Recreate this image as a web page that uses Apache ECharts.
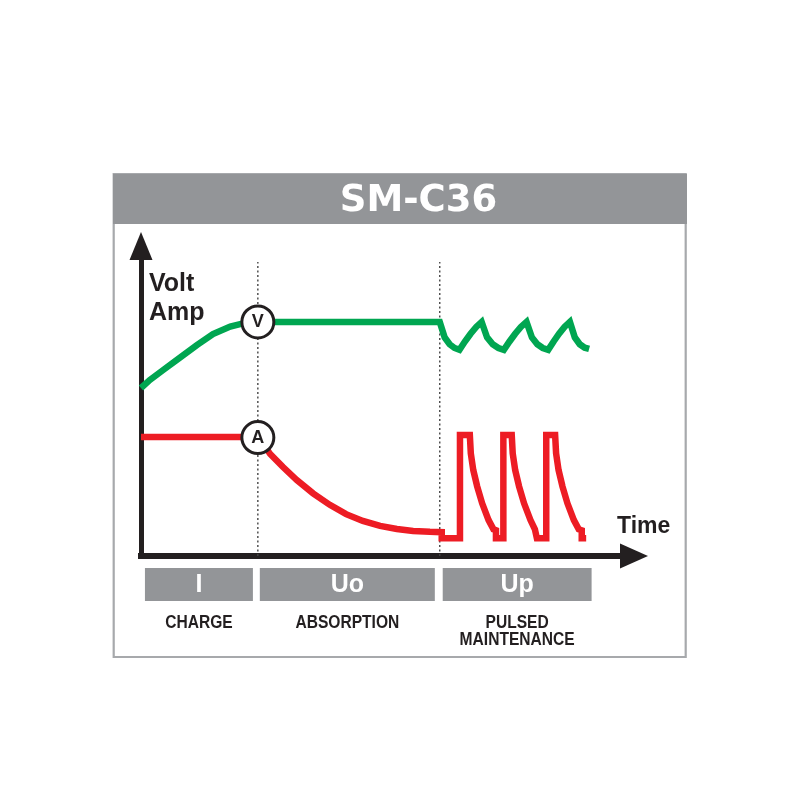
<!DOCTYPE html>
<html><head><meta charset="utf-8">
<script src="https://cdn.jsdelivr.net/npm/echarts@6/dist/echarts.min.js"></script>
<style>html,body{margin:0;padding:0;background:#fff}#c{width:800px;height:800px}</style>
</head><body><div id="c"></div>
<script>
// ---- data (time and level in % of the drawn axes) ----
const chartTitle = 'SM-C36';
const yAxisName = 'Volt\nAmp';
const xAxisName = 'Time';

const voltTime  = [0, 1.8, 4.5, 7.9, 11.4, 14.6, 18.1, 21.1, 23.7, 60.6,
  61.6, 62.6, 63.6, 64.6, 65.7, 66.85, 68.0, 69.1,
  70.2, 71.35, 72.5, 73.6, 74.75, 75.9, 77.05, 78.2,
  79.3, 80.4, 81.5, 82.6, 83.7, 84.8, 85.9, 87.0,
  88.0, 89.0, 90.0, 90.9];
const voltLevel = [54.2, 56.8, 60.0, 64.0, 68.1, 71.6, 74.0, 75.2, 75.5, 75.5,
  70.5, 68.3, 67.1, 66.5, 69.2, 71.7, 73.9, 75.5,
  70.5, 68.3, 67.1, 66.5, 69.2, 71.7, 73.9, 75.5,
  70.5, 68.3, 67.1, 66.5, 69.2, 71.7, 73.9, 75.5,
  70.5, 68.3, 67.2, 66.8];

const ampTime  = [0, 23.8, 26.2, 28.8, 31.6, 34.9, 38.3, 41.6, 45.0, 48.5, 51.9, 55.2, 58.6, 61.0, 61.0,
  64.7, 64.7, 66.7, 66.9, 67.4, 68.2, 69.2, 70.5, 71.5, 72.0, 72.0,
  73.5, 73.5, 75.2, 75.4, 75.9, 76.7, 77.7, 79.0, 79.9, 80.3, 80.3,
  82.2, 82.2, 84.0, 84.2, 84.7, 85.5, 86.5, 87.8, 88.8, 89.4, 89.4, 90.3];
const ampLevel = [38.4, 38.4, 32.9, 28.7, 24.5, 20.2, 16.5, 13.5, 11.3, 9.7, 8.7, 8.1, 7.8, 7.7, 5.7,
  5.7, 39.0, 39.0, 33.1, 27.7, 22.4, 17.0, 11.6, 8.6, 8.3, 5.7,
  5.7, 39.0, 39.0, 33.1, 27.7, 22.4, 17.0, 11.6, 8.6, 8.3, 5.7,
  5.7, 39.0, 39.0, 33.1, 27.7, 22.4, 17.0, 11.6, 8.6, 8.3, 5.7, 5.7];

const markerLabels = ['V', 'A'];
const markerTime   = [23.7, 23.7];
const markerLevel  = [75.5, 38.2];

const dividerTime = [23.7, 60.6];
const dividerTop  = 94.8;

const phaseCodes  = ['I', 'Uo', 'Up'];
const phaseNames  = ['CHARGE', 'ABSORPTION', 'PULSED\nMAINTENANCE'];
const phaseStart  = [0.8, 24.1, 61.2];
const phaseEnd    = [22.7, 59.6, 91.4];

// ---- styles ----
const INK = '#231f20', GREEN = '#00a651', RED = '#ed1c24', GRAY = '#939598';
const SANS = "'Liberation Sans',Arial,sans-serif";

const pairs = (xs, ys) => xs.map((x, i) => [x, ys[i]]);

const series = [];
dividerTime.forEach((x, i) => series.push({
  type: 'line', name: 'divider' + i, data: [[x, 0], [x, dividerTop]], symbol: 'none', silent: true, z: 1,
  lineStyle: { color: '#444', width: 1.4, type: [2, 2.5] }
}));
series.push({
  type: 'line', name: 'Volt', data: pairs(voltTime, voltLevel), symbol: 'none', z: 3,
  lineStyle: { color: GREEN, width: 6.5, join: 'miter', miterLimit: 6 }
});
series.push({
  type: 'line', name: 'Amp', data: pairs(ampTime, ampLevel), symbol: 'none', z: 3,
  lineStyle: { color: RED, width: 6.5, join: 'miter', miterLimit: 6 }
});
series.push({
  type: 'scatter', name: 'markers', z: 5, symbol: 'circle', symbolSize: 32,
  data: markerLabels.map((t, i) => ({ name: t, value: [markerTime[i], markerLevel[i]] })),
  itemStyle: { color: '#fff', borderColor: INK, borderWidth: 3, opacity: 1 },
  label: { show: true, position: 'inside', formatter: p => p.name, color: INK,
    fontFamily: SANS, fontWeight: 'bold', fontSize: 18 }
});
series.push({
  type: 'custom', name: 'phases', z: 4, clip: false,
  data: phaseCodes.map((c, i) => [phaseStart[i], phaseEnd[i]]),
  renderItem: function (params, api) {
    const i = params.dataIndex;
    const a = api.coord([api.value(0), 0]);
    const b = api.coord([api.value(1), 0]);
    const top = a[1] + 12, h = 33, cx = (a[0] + b[0]) / 2;
    return {
      type: 'group',
      children: [
        { type: 'rect', shape: { x: a[0], y: top, width: b[0] - a[0], height: h }, style: { fill: GRAY } },
        { type: 'text', style: { text: phaseCodes[i], x: cx, y: top + h / 2 + 1, align: 'center', verticalAlign: 'middle',
            fill: '#fff', fontFamily: SANS, fontWeight: 'bold', fontSize: 25 } },
        { type: 'text', x: cx, y: top + h + 13, scaleX: 0.82,
          style: { text: phaseNames[i], x: 0, y: 0, align: 'center', verticalAlign: 'top',
            fill: INK, fontFamily: SANS, fontWeight: 'bold', fontSize: 19, lineHeight: 17 } }
      ]
    };
  }
});

const option = {
  animation: false,
  backgroundColor: '#fff',
  grid: { left: 141, top: 246, right: 166, bottom: 244, containLabel: false },
  xAxis: {
    type: 'value', min: 0, max: 100,
    axisLine: { show: true, onZero: false, symbol: ['none', 'triangle'], symbolSize: [25, 28],
      lineStyle: { color: INK, width: 6, cap: 'square' } },
    axisTick: { show: false }, axisLabel: { show: false }, splitLine: { show: false },
    name: xAxisName, nameLocation: 'end', nameGap: -17,
    nameTextStyle: { align: 'left', verticalAlign: 'bottom', padding: [0, 0, 18, 0],
      color: INK, fontFamily: SANS, fontWeight: 'bold', fontSize: 23 }
  },
  yAxis: {
    type: 'value', min: 0, max: 100,
    axisLine: { show: true, onZero: false, symbol: ['none', 'triangle'], symbolSize: [23, 28],
      lineStyle: { color: INK, width: 5 } },
    axisTick: { show: false }, axisLabel: { show: false }, splitLine: { show: false },
    name: yAxisName, nameLocation: 'end', nameGap: -24,
    nameTextStyle: { align: 'left', verticalAlign: 'top', padding: [0, 0, 0, 8], lineHeight: 29,
      color: INK, fontFamily: SANS, fontWeight: 'bold', fontSize: 25 }
  },
  graphic: [
    { type: 'rect', z: -10, shape: { x: 113.7, y: 174, width: 572, height: 483 },
      style: { fill: '#fff', stroke: '#a7a9ac', lineWidth: 2.2 } },
    { type: 'rect', z: -9, shape: { x: 113, y: 174, width: 574, height: 50 }, style: { fill: GRAY } },
    { type: 'text', z: -8, style: { text: chartTitle, x: 418.5, y: 201.5, align: 'center', verticalAlign: 'middle',
        fill: '#fff', fontFamily: "'DejaVu Sans',sans-serif", fontWeight: 'bold', fontSize: 37 } }
  ],
  series: series
};

const chart = echarts.init(document.getElementById('c'));
chart.setOption(option);
</script>
</body></html>
